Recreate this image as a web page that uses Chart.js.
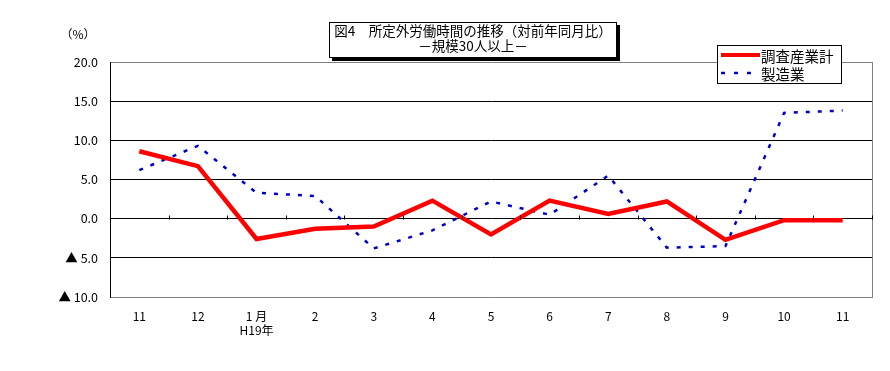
<!DOCTYPE html>
<html>
<head>
<meta charset="utf-8">
<script src="https://cdn.jsdelivr.net/npm/chart.js@4"></script>
<style>
  html, body { margin: 0; padding: 0; background: #fff; }
  #wrap { width: 890px; height: 371px; }
</style>
</head>
<body>
<div id="wrap"><canvas id="myChart" width="890" height="371"></canvas></div>
<script>
const months = ['11', '12', ['1 月', 'H19年'], '2', '3', '4', '5', '6', '7', '8', '9', '10', '11'];
const totalIndustry = [8.6, 6.7, -2.6, -1.3, -1.0, 2.3, -2.0, 2.3, 0.6, 2.2, -2.7, -0.2, -0.2];
const manufacturing = [6.2, 9.3, 3.3, 2.9, -3.8, -1.5, 2.2, 0.5, 5.5, -3.7, -3.5, 13.5, 13.8];
const yTicks = [20, 15, 10, 5, 0, -5, -10];
const titleLines = ['図4　所定外労働時間の推移（対前年同月比）', '－規模30人以上－'];
const unitLabel = '（%）';

const FONT = '"Noto Sans CJK JP", "DejaVu Sans", sans-serif';

// frame, tick marks on the zero line, title box, legend box
const decor = {
    id: 'decor',
    afterDraw(chart) {
        const ctx = chart.ctx;
        const { left, right, top, bottom } = chart.chartArea;
        const x = chart.scales.x;
        const y = chart.scales.y;
        ctx.save();

        // right border
        ctx.strokeStyle = '#808080';
        ctx.lineWidth = 1;
        ctx.beginPath();
        ctx.moveTo(right + 0.5, top);
        ctx.lineTo(right + 0.5, bottom);
        ctx.stroke();

        // tick marks at category boundaries on the 0 line
        const y0 = Math.round(y.getPixelForValue(0)) + 0.5;
        ctx.strokeStyle = '#000';
        ctx.beginPath();
        for (let i = 1; i <= months.length; i++) {
            const px = Math.round((x.getPixelForValue(i - 1) + x.getPixelForValue(i)) / 2) + 0.5;
            const bx = i === months.length ? right + 0.5 : px;
            ctx.moveTo(bx, y0 - 4);
            ctx.lineTo(bx, y0);
        }
        ctx.stroke();

        // unit label
        ctx.fillStyle = '#000';
        ctx.font = '12px ' + FONT;
        ctx.textAlign = 'center';
        ctx.textBaseline = 'middle';
        ctx.fillText(unitLabel, 78, 34);

        // title box with shadow
        const tx = 329, ty = 22, tw = 288, th = 36;
        ctx.fillStyle = '#000';
        ctx.fillRect(tx + 3, ty + 3, tw, th);
        ctx.fillStyle = '#fff';
        ctx.fillRect(tx, ty, tw, th);
        ctx.strokeStyle = '#000';
        ctx.strokeRect(tx + 0.5, ty + 0.5, tw - 1, th - 1);
        ctx.fillStyle = '#000';
        ctx.font = '13.5px ' + FONT;
        ctx.fillText(titleLines[0], tx + tw / 2, ty + 9);
        ctx.fillText(titleLines[1], tx + tw / 2, ty + 24);

        // legend box
        const lx = 717, ly = 45, lw = 125, lh = 39;
        ctx.fillStyle = '#fff';
        ctx.fillRect(lx, ly, lw, lh);
        ctx.strokeStyle = '#000';
        ctx.strokeRect(lx + 0.5, ly + 0.5, lw - 1, lh - 1);
        const ds = chart.data.datasets;
        ds.forEach((d, i) => {
            const rowY = ly + 10 + i * 18;
            ctx.strokeStyle = d.borderColor;
            ctx.lineWidth = i === 0 ? 4 : 2.5;
            ctx.setLineDash(i === 0 ? [] : [4, 9]);
            ctx.beginPath();
            ctx.moveTo(lx + 4, rowY);
            ctx.lineTo(lx + 43, rowY);
            ctx.stroke();
            ctx.setLineDash([]);
            ctx.fillStyle = '#000';
            ctx.font = '14.5px ' + FONT;
            ctx.textAlign = 'left';
            ctx.fillText(d.label, lx + 44, rowY + 1);
        });
        ctx.restore();
    }
};

new Chart(document.getElementById('myChart'), {
    type: 'line',
    data: {
        labels: months,
        datasets: [
            {
                label: '調査産業計',
                data: totalIndustry,
                borderColor: '#ff0000',
                borderWidth: 4.5,
                pointRadius: 0,
                tension: 0
            },
            {
                label: '製造業',
                data: manufacturing,
                borderColor: '#0000cc',
                borderWidth: 2.5,
                borderDash: [4, 8],
                pointRadius: 0,
                tension: 0
            }
        ]
    },
    options: {
        responsive: false,
        animation: false,
        layout: { padding: { top: 62, right: 18, left: 0, bottom: 0 } },
        plugins: {
            legend: { display: false },
            title: { display: false },
            tooltip: { enabled: false }
        },
        scales: {
            x: {
                offset: true,
                grid: { display: false, drawTicks: false },
                border: { color: '#808080', width: 1 },
                ticks: {
                    color: '#000',
                    font: { family: FONT, size: 12 },
                    padding: 12,
                    maxRotation: 0,
                    autoSkip: false
                },
                afterFit(scale) { scale.height = 74; }
            },
            y: {
                min: -10,
                max: 20,
                afterBuildTicks(scale) { scale.ticks = yTicks.map(v => ({ value: v })); },
                grid: {
                    drawTicks: false,
                    color: ctx => (ctx.tick && (ctx.tick.value === 20 || ctx.tick.value === -10)) ? '#808080' : '#000',
                    lineWidth: 1
                },
                border: { color: '#000', width: 1 },
                ticks: {
                    color: '#000',
                    font: { family: FONT, size: 12.5 },
                    padding: 12,
                    callback: v => v < 0 ? '▲ ' + Math.abs(v).toFixed(1) : v.toFixed(1)
                },
                afterFit(scale) { scale.width = 110; }
            }
        }
    },
    plugins: [decor]
});
</script>
</body>
</html>
